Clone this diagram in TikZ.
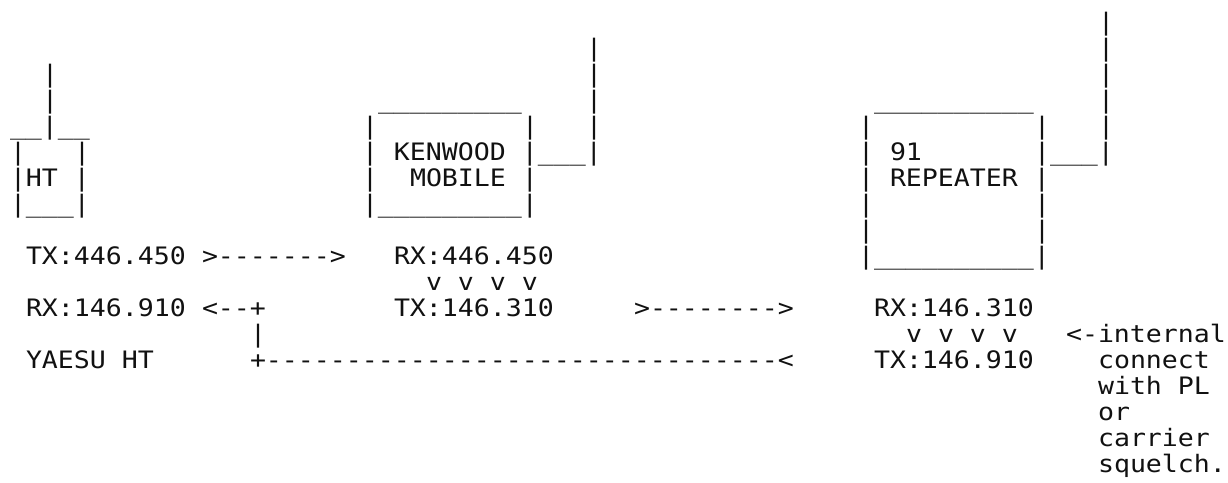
\documentclass[tikz,border=0pt]{standalone}
\usepackage{fontspec}
\setmonofont[FakeStretch=1.107]{DejaVu Sans Mono}
\usepackage{tikz}
\definecolor{paper}{HTML}{FFFFFF}
\definecolor{ink}{HTML}{111111}

\begin{document}
\begin{tikzpicture}[x=16pt,y=-26pt,
  glyph/.style={anchor=base west,inner sep=0pt,outer sep=0pt,text=ink,font=\ttfamily\fontsize{24}{26}\selectfont}]
\fill[paper] (-10pt,30pt) rectangle (1218pt,-452pt);
% antennas
\foreach \r in {2,3} \node[glyph] (htmast\r) at (2,\r) {|};
\foreach \r in {1,...,4} \node[glyph] (kwmast\r) at (36,\r) {|};
\foreach \r in {0,...,4} \node[glyph] (rpmast\r) at (68,\r) {|};
% HT
\node[glyph] (httop) at (0,4) {\_\_|\_\_};
\node[glyph] (htl) at (0,5) {|};
\node[glyph] (htr) at (4,5) {|};
\node[glyph] (htname) at (0,6) {|HT |};
\node[glyph] (htbot) at (0,7) {|\_\_\_|};
% kenwood
\node[glyph] (kwtop) at (23,3) {\_\_\_\_\_\_\_\_\_};
\node[glyph] (kwl) at (22,4) {|};
\node[glyph] (kwr) at (32,4) {|};
\node[glyph] (kwname) at (22,5) {| KENWOOD |\_\_\_|};
\node[glyph] (kwside) at (22,6) {|};
\node[glyph] (kwtype) at (25,6) {MOBILE |};
\node[glyph] (kwbot) at (22,7) {|\_\_\_\_\_\_\_\_\_|};
% repeater
\node[glyph] (rptop) at (54,3) {\_\_\_\_\_\_\_\_\_\_};
\foreach \r in {4,7,8} {
  \node[glyph] (rpl\r) at (53,\r) {|};
  \node[glyph] (rpr\r) at (64,\r) {|};
}
\node[glyph] (rpnum) at (53,5) {| 91};
\node[glyph] (rpfeed) at (64,5) {|\_\_\_|};
\node[glyph] (rpname) at (53,6) {| REPEATER |};
\node[glyph] (rpbot) at (53,9) {|\_\_\_\_\_\_\_\_\_\_|};
% frequencies
\node[glyph] (httx) at (1,9) {TX:446.450};
\node[glyph] (uplink) at (12,9) {>------->};
\node[glyph] (kwrx) at (24,9) {RX:446.450};
\node[glyph] (kwcross) at (26,10) {v v v v};
\node[glyph] (htrx) at (1,11) {RX:146.910};
\node[glyph] (back) at (12,11) {<--+};
\node[glyph] (kwtx) at (24,11) {TX:146.310};
\node[glyph] (link) at (39,11) {>-------->};
\node[glyph] (rprx) at (54,11) {RX:146.310};
\node[glyph] (drop) at (15,12) {|};
\node[glyph] (rpcross) at (56,12) {v v v v};
\node[glyph] (note) at (66,12) {<-internal};
\node[glyph] (htmodel) at (1,13) {YAESU HT};
\node[glyph] (downlink) at (15,13) {+--------------------------------<};
\node[glyph] (rptx) at (54,13) {TX:146.910};
\foreach \t [count=\r from 13] in {connect,with PL,or,carrier,squelch.}
  \node[glyph] (note\r) at (68,\r) {\t};
\end{tikzpicture}
\end{document}
